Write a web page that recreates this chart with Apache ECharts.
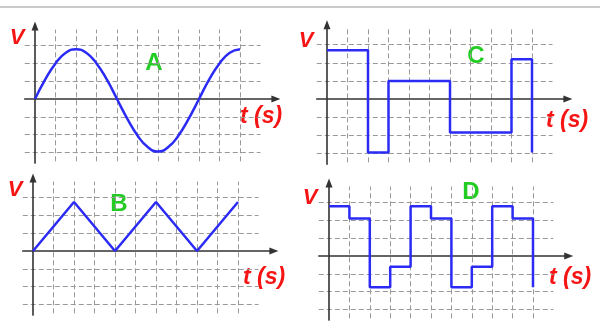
<!DOCTYPE html>
<html>
<head>
<meta charset="utf-8">
<script src="https://cdn.jsdelivr.net/npm/echarts@6/dist/echarts.min.js"></script>
<style>
  html, body { margin: 0; padding: 0; background: #fff; }
  #main { width: 600px; height: 323px; }
</style>
</head>
<body>
<div id="main"></div>
<script>
// values, in grid cells (x = time, y = voltage)
var sineT = [0, 0.5, 1, 1.5, 2, 2.5, 3, 3.5, 4, 4.5, 5, 5.5, 6, 6.5, 7, 7.5, 8, 8.5, 9, 9.5, 10];
var sineV = [0, 1.1, 2.0, 2.6, 2.8, 2.6, 2.0, 1.1, 0, -1.1, -2.05, -2.7, -2.95, -2.7, -2.05, -1.1, 0, 1.1, 2.0, 2.6, 2.8];

var triT = [0, 2, 4, 6, 8, 10];
var triV = [0, 2.75, 0, 2.75, 0, 2.75];

var sqT = [0, 2, 3, 6, 9, 10];
var sqV = [2.7, -2.95, 1, -1.85, 2.2, -2.95];

var stepT = [0, 1, 2, 3, 4, 5, 6, 7, 8, 9, 10];
var stepV = [2.8, 2.1, -1.75, -0.6, 2.8, 2.1, -1.75, -0.6, 2.8, 2.1, -1.75];

var gridX = [1, 2, 3, 4, 5, 6, 7, 8, 9, 10];
var gridY = [-3, -2, -1, 1, 2, 3];

var panelNames = ["A", "C", "B", "D"];

// layout: origin pixel and cell size per panel
var panels = [
  { ox: 35, oy: 99, cw: 20.5, ch: 17.8, name: [154, 63], t: [261, 117], v: [17, 38] },
  { ox: 327, oy: 99, cw: 20.5, ch: 18.1, name: [476, 56], t: [567, 121], v: [306, 41] },
  { ox: 33, oy: 251, cw: 20.5, ch: 17.8, name: [119, 204], t: [264, 278], v: [15, 190] },
  { ox: 329, oy: 256, cw: 20.4, ch: 17.8, name: [471, 192], t: [570, 278], v: [310, 198] }
];

var xMin = -0.5, xMax = 11.75, yMin = -3.6, yMax = 4.1;

function pairs(t, v) {
  var out = [];
  for (var i = 0; i < t.length; i++) out.push([t[i], v[i]]);
  return out;
}

function gridLines() {
  var lines = [];
  gridX.forEach(function (x) {
    lines.push([{ coord: [x, -3.5] }, { coord: [x, 3.9] }]);
  });
  gridY.forEach(function (y) {
    lines.push([{ coord: [-0.5, y] }, { coord: [11, y] }]);
  });
  return lines;
}

var grids = [], xAxes = [], yAxes = [], series = [], graphics = [];

var waveData = [pairs(sineT, sineV), pairs(sqT, sqV), pairs(triT, triV), pairs(stepT, stepV)];
var waveStep = [false, "end", false, "end"];
var waveSmooth = [true, false, false, false];

panels.forEach(function (p, i) {
  grids.push({
    left: p.ox + xMin * p.cw,
    top: p.oy - yMax * p.ch,
    width: (xMax - xMin) * p.cw,
    height: (yMax - yMin) * p.ch
  });
  var axisLine = {
    show: true,
    onZero: true,
    symbol: ["none", "triangle"],
    symbolSize: [7, 9],
    lineStyle: { color: "#333", width: 1.6 }
  };
  xAxes.push({
    type: "value", gridIndex: i, min: xMin, max: xMax, z: 2,
    axisLine: axisLine, axisTick: { show: false }, axisLabel: { show: false }, splitLine: { show: false }
  });
  yAxes.push({
    type: "value", gridIndex: i, min: yMin, max: yMax, z: 2,
    axisLine: axisLine, axisTick: { show: false }, axisLabel: { show: false }, splitLine: { show: false }
  });
  series.push({
    type: "line",
    xAxisIndex: i,
    yAxisIndex: i,
    data: waveData[i],
    step: waveStep[i],
    smooth: waveSmooth[i],
    symbol: "none",
    z: 3,
    lineStyle: { color: "#2b2bf5", width: 2.5 },
    markLine: {
      z: 1,
      silent: true,
      animation: false,
      symbol: ["none", "none"],
      label: { show: false },
      lineStyle: { color: "#999", type: [5, 3], width: 1 },
      data: gridLines()
    }
  });

  graphics.push({
    type: "text", x: p.v[0], y: p.v[1],
    style: { text: "V", fill: "#f51515", font: "italic bold 22px 'Liberation Sans', Arial, sans-serif", align: "center", verticalAlign: "middle" }
  });
  graphics.push({
    type: "text", x: p.name[0], y: p.name[1],
    style: { text: panelNames[i], fill: "#22cc22", font: "bold 24px 'Liberation Sans', Arial, sans-serif", align: "center", verticalAlign: "middle" }
  });
  graphics.push({
    type: "text", x: p.t[0], y: p.t[1],
    style: { text: "t (s)", fill: "#f51515", font: "italic bold 23px 'Liberation Sans', Arial, sans-serif", align: "center", verticalAlign: "middle" }
  });
});

// thin frame line across the top
graphics.push({
  type: "line",
  shape: { x1: 0, y1: 7, x2: 600, y2: 7 },
  style: { stroke: "#b8b8b8", lineWidth: 1.5 }
});

var chart = echarts.init(document.getElementById("main"));
chart.setOption({
  animation: false,
  backgroundColor: "#fff",
  grid: grids,
  xAxis: xAxes,
  yAxis: yAxes,
  series: series,
  graphic: graphics
});
</script>
</body>
</html>
